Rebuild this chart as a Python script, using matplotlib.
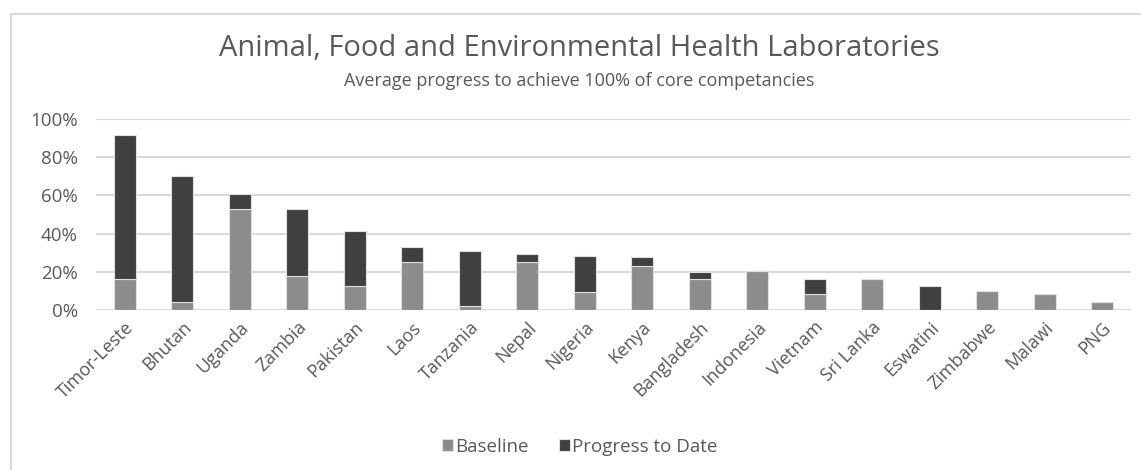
import numpy as np
import matplotlib.pyplot as plt
from matplotlib.patches import Rectangle
from matplotlib.ticker import FuncFormatter

plt.rcParams['font.family'] = ['Open Sans', 'DejaVu Sans']

countries = ["Timor-Leste", "Bhutan", "Uganda", "Zambia", "Pakistan", "Laos",
             "Tanzania", "Nepal", "Nigeria", "Kenya", "Bangladesh", "Indonesia",
             "Vietnam", "Sri Lanka", "Eswatini", "Zimbabwe", "Malawi", "PNG"]
baseline = [16.0, 4.0, 53.0, 18.0, 12.7, 25.0, 2.0, 25.0, 9.2, 23.2, 16.2, 20.4,
            8.4, 16.2, 0.0, 10.1, 8.4, 4.0]
progress = [75.6, 66.3, 7.7, 35.0, 28.8, 7.8, 29.0, 4.3, 19.2, 4.4, 3.5, 0.0,
            7.8, 0.0, 12.7, 0.0, 0.0, 0.0]

TXT = "#595959"
GRID = "#d9d9d9"

fig = plt.figure(figsize=(11.41, 4.70), dpi=100)
ax = fig.add_axes([0.0841, 0.3404, 0.907, 0.4064])

# chart border (only top and left edges are visible in the crop)
fig.patches.append(Rectangle((10.5 / 1141, -0.1), 1.2, 1 - 13.5 / 470 + 0.1,
                             transform=fig.transFigure, fill=False,
                             edgecolor=GRID, linewidth=1.5))

x = np.arange(len(countries))
ax.bar(x, baseline, width=0.38, color="#8c8c8c", edgecolor="#e0e0e0",
       linewidth=0.8, label="Baseline", zorder=3)
ax.bar(x, progress, width=0.38, bottom=baseline, color="#404040",
       edgecolor="#e0e0e0", linewidth=0.8, label="Progress to Date", zorder=3)

ax.set_xlim(-0.5, len(countries) - 0.5)
ax.set_ylim(0, 100)
ax.set_yticks(np.arange(0, 101, 20))
ax.yaxis.set_major_formatter(FuncFormatter(lambda v, p: "{:.0f}%".format(v)))
ax.grid(axis="y", color=GRID, linewidth=1.5, zorder=0)
for s in ax.spines.values():
    s.set_visible(False)
ax.tick_params(axis="both", length=0, colors=TXT, labelsize=13.5)
ax.tick_params(axis="y", pad=13)
ax.tick_params(axis="x", pad=6)
ax.set_xticks(x)
ax.set_xticklabels(countries, rotation=45, ha="right", va="top",
                   rotation_mode="anchor", fontsize=13)

fig.text(0.508, 1 - 48 / 470, "Animal, Food and Environmental Health Laboratories",
         ha="center", va="center", fontsize=21, color=TXT)
fig.text(0.508, 1 - 81 / 470, "Average progress to achieve 100% of core competancies",
         ha="center", va="center", fontsize=13, color=TXT)

fig.legend(loc="center", bbox_to_anchor=(0.508, 1 - 447 / 470), ncol=2,
           frameon=False, fontsize=13.5, labelcolor=TXT, handlelength=0.6,
           handleheight=0.6, handletextpad=0.1, columnspacing=1.6)

fig.savefig("out.png", dpi=100)
